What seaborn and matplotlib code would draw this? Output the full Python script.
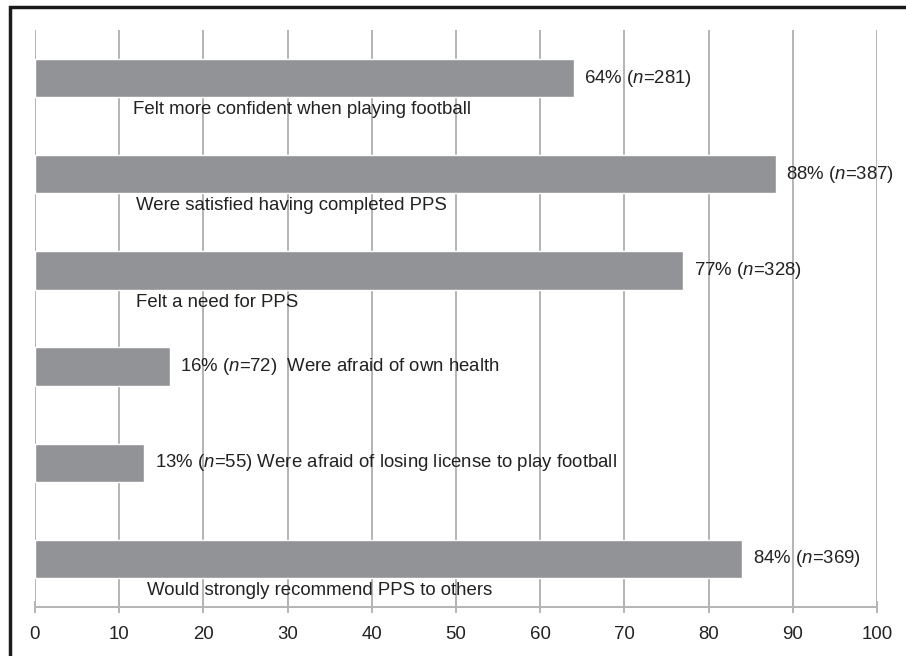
import matplotlib
matplotlib.use("Agg")
import matplotlib.pyplot as plt
import matplotlib.patches as mpatches
import seaborn as sns
import pandas as pd

# ---- data ----
categories = [
    "Felt more confident when playing football",
    "Were satisfied having completed PPS",
    "Felt a need for PPS",
    "Were afraid of own health",
    "Were afraid of losing license to play football",
    "Would strongly recommend PPS to others",
]
percent = [64, 88, 77, 16, 13, 84]
counts = [281, 387, 328, 72, 55, 369]
xticks = [0, 10, 20, 30, 40, 50, 60, 70, 80, 90, 100]

# category label placement: x (data units) below the bar, or None = inline after value
label_below_x = [11.6, 12.0, 12.0, None, None, 13.3]
inline_gap = ["", "", "", "  ", " ", ""]

sns.set_theme(style="white")
plt.rcParams["font.family"] = ["Liberation Sans", "DejaVu Sans"]
plt.rcParams["mathtext.fontset"] = "custom"
plt.rcParams["mathtext.it"] = "Liberation Sans:italic"
plt.rcParams["mathtext.rm"] = "Liberation Sans"

df = pd.DataFrame({"cat": categories, "pct": percent})

fig = plt.figure(figsize=(9.06, 6.56), dpi=100)
ax = fig.add_axes([35 / 906, 1 - 607 / 656, (877 - 35) / 906, (607 - 30) / 656])

bar_color = "#929396"
grid_color = "#b4b4b4"
text_color = "#222222"
fs = 13.4

sns.barplot(data=df, x="pct", y="cat", orient="h", color=bar_color,
            width=0.4, saturation=1, ax=ax, zorder=3)

ax.set_xlim(0, 100)
ax.set_ylim(len(categories) - 0.5, -0.5)
ax.set_xticks(xticks)
ax.set_xticklabels([str(t) for t in xticks], fontsize=fs, color=text_color)
ax.set_yticks([])
ax.set_xlabel("")
ax.set_ylabel("")

for t in xticks:
    ax.axvline(t, color=grid_color, lw=1.4, zorder=1)

for s in ["top", "right", "left"]:
    ax.spines[s].set_visible(False)
ax.spines["bottom"].set_color(grid_color)
ax.spines["bottom"].set_linewidth(1.4)
ax.tick_params(axis="x", direction="inout", length=9, width=1.4, color=grid_color,
               pad=9, bottom=True)

for i, (p, n, cat, lx, gap) in enumerate(zip(percent, counts, categories, label_below_x, inline_gap)):
    val = f"{p}% ($n$={n})"
    if lx is None:
        txt = val + gap + cat
    else:
        txt = val
        ax.text(lx, i + 0.33, cat, ha="left", va="center", fontsize=fs, color=text_color, zorder=4)
    ax.annotate(txt, xy=(p, i), xytext=(7.5, 0), textcoords="offset points",
                ha="left", va="center", fontsize=fs, color=text_color, zorder=4)

# outer frame (cropped at right/bottom)
frame = mpatches.Rectangle((10 / 906, -0.05), 1.2, 1 - 7 / 656 + 0.05, transform=fig.transFigure,
                           fill=False, edgecolor="#1a1a1a", lw=2.5, clip_on=False)
fig.patches.append(frame)

fig.savefig("out.png", dpi=100)
